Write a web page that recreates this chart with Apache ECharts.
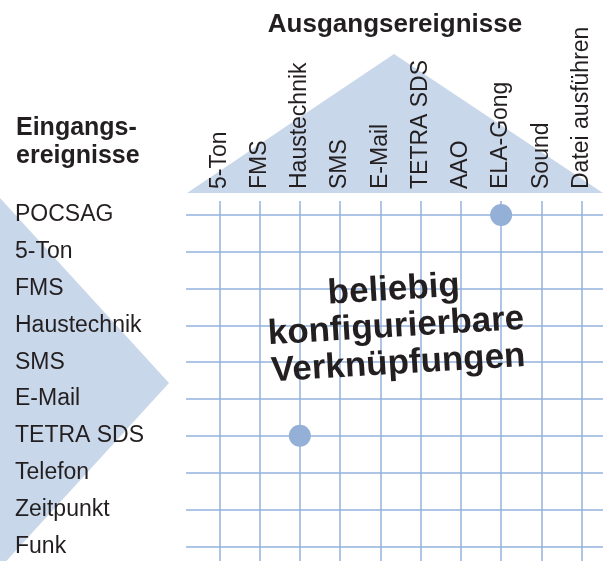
<!DOCTYPE html>
<html>
<head>
<meta charset="utf-8">
<script src="https://cdn.jsdelivr.net/npm/echarts@6/dist/echarts.min.js"></script>
<style>
  html, body { margin: 0; padding: 0; background: #fff; }
  #matrix-box { width: 611px; height: 561px; }
</style>
</head>
<body>
<div id="matrix-box"></div>
<script>
// Ausgangsereignisse (Spalten)
const outputs = ['5-Ton', 'FMS', 'Haustechnik', 'SMS', 'E-Mail', 'TETRA SDS', 'AAO', 'ELA-Gong', 'Sound', 'Datei ausführen']
// Eingangsereignisse (Zeilen)
const inputs = ['POCSAG', '5-Ton', 'FMS', 'Haustechnik', 'SMS', 'E-Mail', 'TETRA SDS', 'Telefon', 'Zeitpunkt', 'Funk']
// Verknüpfungen: [Eingang, Ausgang]
const links = [['POCSAG', 'ELA-Gong'], ['TETRA SDS', 'Haustechnik']]

const textColor = '#231f20'
const lineColor = '#93b2dc'
const fillColor = '#c8d7ea'
const font = '"Liberation Sans", Arial, sans-serif'

const colIdx = outputs.map((d, i) => i)
const rowIdx = inputs.map((d, i) => i)
const points = links.map(l => [outputs.indexOf(l[1]), inputs.indexOf(l[0])])

let chart = echarts.init(document.getElementById('matrix-box'))
let option = {
  animation: false,
  grid: { left: 186, right: 8, top: 201, bottom: 0 },
  xAxis: {
    type: 'value',
    position: 'top',
    min: -0.827,
    max: 9.53,
    axisLine: { show: false },
    axisTick: { show: false, customValues: colIdx },
    axisLabel: {
      customValues: colIdx,
      rotate: 90,
      margin: 12,
      color: textColor,
      fontFamily: font,
      fontSize: 23,
      formatter: v => outputs[Math.round(v)]
    },
    splitLine: { show: true, lineStyle: { color: lineColor, width: 1.5 } }
  },
  yAxis: {
    type: 'value',
    inverse: true,
    min: -0.38,
    max: 9.4,
    axisLine: { show: false },
    axisTick: { show: false, customValues: rowIdx },
    axisLabel: {
      customValues: rowIdx,
      margin: 171,
      align: 'left',
      padding: [5, 0, 0, 0],
      color: textColor,
      fontFamily: font,
      fontSize: 23,
      formatter: v => inputs[Math.round(v)]
    },
    splitLine: { show: true, lineStyle: { color: lineColor, width: 1.5 } }
  },
  graphic: [
    // Dreiecke im Hintergrund
    { type: 'polygon', z: -1, shape: { points: [[187, 193], [394, 54], [603, 193]] }, style: { fill: fillColor } },
    { type: 'polygon', z: -1, shape: { points: [[0, 198], [169, 383], [0, 568]] }, style: { fill: fillColor } },
    {
      type: 'text', x: 395, y: 25,
      style: { text: 'Ausgangsereignisse', fill: textColor, font: 'bold 26px ' + font, align: 'center', verticalAlign: 'middle' }
    },
    {
      type: 'text', x: 16, y: 114,
      style: { text: 'Eingangs-\nereignisse', fill: textColor, font: 'bold 25px ' + font, lineHeight: 28, align: 'left', verticalAlign: 'top' }
    },
    {
      type: 'text', x: 396, y: 327, rotation: 0.06, z: 10,
      style: { text: 'beliebig\nkonfigurierbare\nVerknüpfungen', fill: textColor, font: 'bold 35px ' + font, lineHeight: 37, align: 'center', verticalAlign: 'middle' }
    }
  ],
  series: [
    {
      type: 'scatter',
      symbolSize: 22,
      itemStyle: { color: '#94b0d7', opacity: 1 },
      data: points
    }
  ]
}
chart.setOption(option)
</script>
</body>
</html>
